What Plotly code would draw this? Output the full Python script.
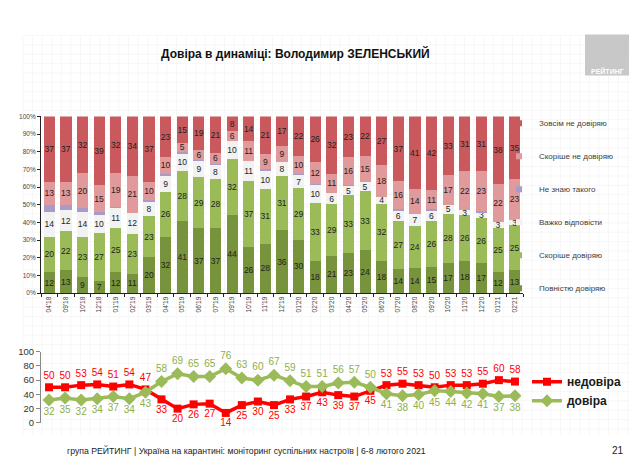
import plotly.graph_objects as go

W, H = 638, 456

months = ["04'18", "09'18", "10'18", "12'18", "01'19", "02'19", "03'19", "04'19", "05'19", "06'19",
          "07'19", "09'19", "10'19", "11'19", "12'19", "01'20", "02'20", "03'20", "04'20", "05'20",
          "06'20", "07'20", "08'20", "09'20", "10'20", "11'20", "12'20", "01'21", "02'21"]

full_trust = [12, 13, 9, 7, 12, 11, 20, 32, 41, 37, 37, 44, 26, 28, 36, 30, 18, 21, 23, 24, 18,
              14, 14, 15, 17, 18, 17, 12, 13]
rather_trust = [20, 22, 23, 27, 25, 23, 23, 26, 28, 29, 28, 32, 37, 31, 31, 29, 33, 29, 33, 33, 32,
                27, 24, 26, 28, 26, 26, 25, 25]
hard_to_say = [14, 12, 14, 10, 11, 12, 8, 9, 10, 9, 8, 10, 11, 10, 8, 7, 10, 6, 5, 5, 4,
               6, 7, 6, 5, 3, 3, 3, 3]
dont_know = [4, 3, 2, 2, 1, 0, 1, 1, 1, 0.5, 1, 0, 0, 1, 0, 1, 1, 0, 1, 0, 0,
             1, 0, 1, 0, 0, 1, 0, 0]
rather_distrust = [13, 13, 20, 15, 19, 21, 10, 10, 5, 6, 6, 6, 11, 9, 9, 10, 12, 11, 16, 15, 18,
                   16, 14, 11, 17, 22, 23, 22, 23]
full_distrust = [37, 37, 32, 39, 32, 34, 37, 23, 15, 19, 21, 8, 14, 21, 17, 22, 26, 32, 23, 22, 27,
                 37, 41, 42, 33, 31, 31, 38, 35]

distrust_line = [50, 50, 53, 54, 51, 54, 47, 33, 20, 26, 27, 14, 25, 30, 25, 33, 37, 43, 39, 37,
                 45, 53, 55, 53, 50, 53, 53, 55, 60, 58]
trust_line = [32, 35, 32, 34, 37, 34, 43, 58, 69, 65, 65, 76, 63, 60, 67, 59, 51, 51, 56, 57,
              50, 41, 38, 40, 45, 44, 42, 41, 37, 38]

bar_series = [
    ("Повністю довіряю", full_trust, "#77933C", True),
    ("Скоріше довіряю", rather_trust, "#9BBB59", True),
    ("Важко відповісти", hard_to_say, "#F2F2F2", True),
    ("Не знаю такого", dont_know, "#A99BC8", False),
    ("Скоріше не довіряю", rather_distrust, "#E09A9B", True),
    ("Зовсім не довіряю", full_distrust, "#C9595D", True),
]

NARROW = "Liberation Sans Narrow, Arial Narrow, Liberation Sans, sans-serif"
SANS = "Liberation Sans, Arial, sans-serif"

fig = go.Figure()

for name, vals, color, labelled in bar_series:
    fig.add_trace(go.Bar(
        x=months, y=vals, name=name, marker=dict(color=color, line=dict(width=0)),
        text=[str(v) for v in vals] if labelled else None,
        textposition="inside" if labelled else "none",
        insidetextanchor="middle", textangle=0, constraintext="none",
        textfont=dict(family=NARROW, size=8.5, color="#222222"),
        showlegend=False, xaxis="x", yaxis="y", hoverinfo="x+y+name",
    ))

# legend entries (top to bottom order as in reference)
for name, vals, color, labelled in reversed(bar_series):
    fig.add_trace(go.Scatter(
        x=[None], y=[None], mode="markers", name=name,
        marker=dict(symbol="square", size=6, color=color),
        legend="legend", legendgroup=name, xaxis="x", yaxis="y",
    ))

idx = list(range(len(distrust_line)))
red_pos = ["top center" if d >= t else "bottom center" for d, t in zip(distrust_line, trust_line)]
green_pos = ["bottom center" if d >= t else "top center" for d, t in zip(distrust_line, trust_line)]

fig.add_trace(go.Scatter(
    x=idx, y=distrust_line, name="недовіра", mode="lines+markers+text",
    line=dict(color="#FF0000", width=3.5),
    marker=dict(symbol="square", size=8, color="#FF0000"),
    text=[str(v) for v in distrust_line], textposition=red_pos,
    textfont=dict(family=NARROW, size=10, color="#FF0000"),
    cliponaxis=False, xaxis="x2", yaxis="y2", legend="legend2",
))
fig.add_trace(go.Scatter(
    x=idx, y=trust_line, name="довіра", mode="lines+markers+text",
    line=dict(color="#9BBB59", width=3.5),
    marker=dict(symbol="diamond", size=10, color="#9BBB59"),
    text=[str(v) for v in trust_line], textposition=green_pos,
    textfont=dict(family=NARROW, size=10, color="#8DAF4E"),
    cliponaxis=False, xaxis="x2", yaxis="y2", legend="legend2",
))

def px_x(p):
    return p / W

def px_y(p):
    return 1 - p / H

# faint graph-paper background
shapes = []
gx = 15
while gx <= 625:
    shapes.append(dict(type="line", xref="paper", yref="paper", x0=px_x(gx), x1=px_x(gx),
                       y0=px_y(432), y1=px_y(22), line=dict(color="#F1F1F1", width=0.6), layer="below"))
    gx += 9.6
gy = 22
while gy <= 432:
    shapes.append(dict(type="line", xref="paper", yref="paper", x0=px_x(15), x1=px_x(625),
                       y0=px_y(gy), y1=px_y(gy), line=dict(color="#F1F1F1", width=0.6), layer="below"))
    gy += 9.6
# grey logo box
shapes.append(dict(type="rect", xref="paper", yref="paper", x0=px_x(577), x1=px_x(621),
                   y0=px_y(63), y1=px_y(21), fillcolor="#C8C8C8", line=dict(width=0)))

annotations = [
    dict(text="<b>Довіра в динаміці: Володимир ЗЕЛЕНСЬКИЙ</b>", x=px_x(287), y=px_y(40),
         xref="paper", yref="paper", showarrow=False, xanchor="center", yanchor="middle",
         font=dict(family=NARROW, size=12, color="#111111")),
    dict(text="<b>РЕЙТИНГ</b>", x=px_x(599), y=px_y(58), xref="paper", yref="paper",
         showarrow=False, xanchor="center", yanchor="middle",
         font=dict(family=NARROW, size=7, color="#FFFFFF")),
    dict(text="група РЕЙТИНГ | Україна на карантині: моніторинг суспільних настроїв | 6-8 лютого 2021",
         x=px_x(57), y=px_y(447), xref="paper", yref="paper", showarrow=False,
         xanchor="left", yanchor="middle", font=dict(family=NARROW, size=8.7, color="#222222")),
    dict(text="21", x=px_x(618), y=px_y(447), xref="paper", yref="paper", showarrow=False,
         xanchor="right", yanchor="middle", font=dict(family=NARROW, size=10, color="#222222")),
]

fig.update_layout(
    width=W, height=H, margin=dict(l=0, r=0, t=0, b=0),
    paper_bgcolor="white", plot_bgcolor="rgba(0,0,0,0)",
    barmode="stack", barnorm="percent", bargap=0.33,
    shapes=shapes, annotations=annotations,
    xaxis=dict(domain=[px_x(33), px_x(515)], anchor="y", type="category",
               tickangle=-90, tickfont=dict(family=NARROW, size=6.5, color="#444444"),
               showline=True, linecolor="#222222", linewidth=1, ticks="outside", ticklen=3,
               tickson="boundaries", tickcolor="#222222", showgrid=False),
    yaxis=dict(domain=[px_y(286), px_y(105)], anchor="x", range=[0, 100],
               tickvals=list(range(0, 101, 10)), ticktext=[f"{v}%" for v in range(0, 101, 10)],
               tickfont=dict(family=NARROW, size=6.5, color="#444444"),
               showline=True, linecolor="#222222", linewidth=1, ticks="outside", ticklen=3,
               tickcolor="#222222", showgrid=False, zeroline=False),
    xaxis2=dict(domain=[px_x(33), px_x(515)], anchor="y2", range=[-0.5, 29.5],
                visible=False),
    yaxis2=dict(domain=[px_y(419), px_y(346)], anchor="x2", range=[0, 100], dtick=20,
                tickfont=dict(family=SANS, size=9.5, color="#333333"),
                showline=True, linecolor="#888888", linewidth=1, ticks="outside", ticklen=4,
                tickcolor="#888888", showgrid=False, zeroline=False),
    legend=dict(x=px_x(491), y=px_y(97), xanchor="left", yanchor="top",
                bgcolor="rgba(0,0,0,0)", font=dict(family=NARROW, size=8, color="#404040"),
                tracegroupgap=14, traceorder="grouped"),
    legend2=dict(x=px_x(519), y=px_y(362), xanchor="left", yanchor="top",
                 bgcolor="rgba(0,0,0,0)",
                 font=dict(family=SANS, size=12, color="#1A1A1A", weight="bold"),
                 tracegroupgap=0),
)

fig.write_html("out.html")
